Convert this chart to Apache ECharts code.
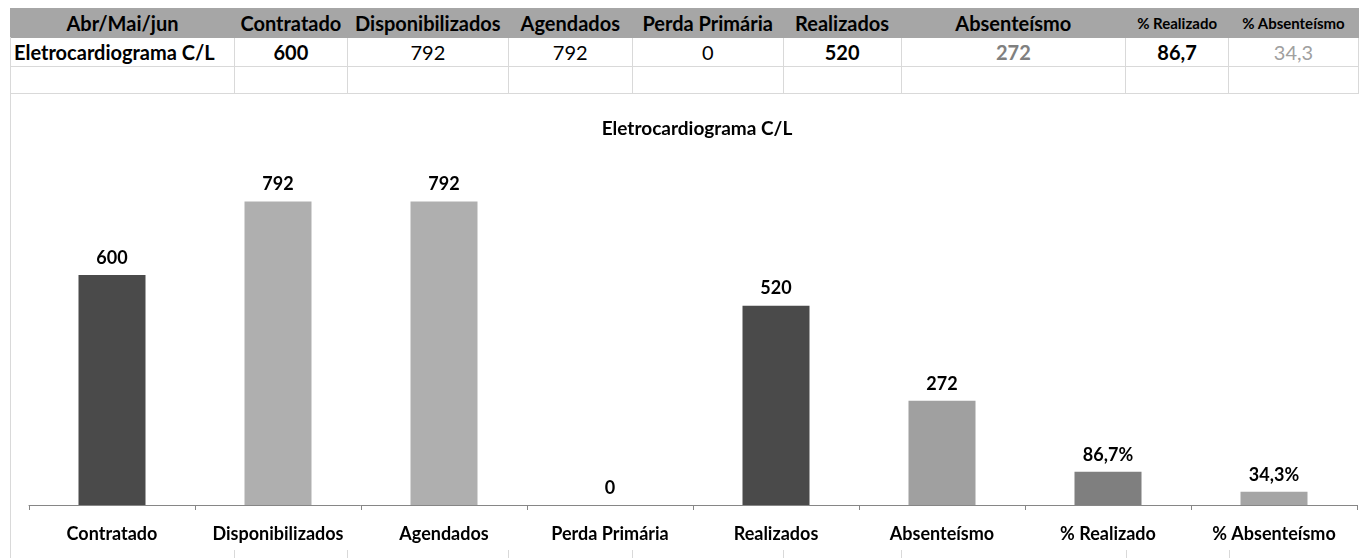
<!DOCTYPE html>
<html>
<head>
<meta charset="utf-8">
<script src="https://cdn.jsdelivr.net/npm/echarts@6/dist/echarts.min.js"></script>
<style>
  html, body { margin: 0; padding: 0; background: #fff; }
  body { width: 1359px; height: 558px; overflow: hidden; position: relative; font-family: Lato, 'Open Sans', sans-serif; }
  #chart { position: absolute; left: 0; top: 0; width: 1359px; height: 558px; }
  #grade { position: absolute; left: 10px; top: 8px; border-collapse: collapse; table-layout: fixed; z-index: 2; background: #fff; }
  #grade td { border: 1px solid #d9d9d9; padding: 0; text-align: center; white-space: nowrap; overflow: visible; font-size: 20px; color: #000; }
  #grade tr.head td { background: #a6a6a6; border-color: #a6a6a6; font-weight: bold; font-size: 20px; }
  #grade tr.head td.small { font-size: 15px; }
  #borda { position: absolute; left: 10px; top: 37px; width: 1px; height: 521px; background: #d9d9d9; z-index: 3; }
  .stub { position: absolute; top: 550px; width: 1px; height: 8px; background: #d9d9d9; z-index: 3; }
</style>
</head>
<body>
<div id="chart"></div>
<table id="grade"></table>
<div id="borda"></div>
<script>
// dados
const periodLabel = 'Abr/Mai/jun'
const rowLabel = 'Eletrocardiograma C/L'
const categories = ['Contratado', 'Disponibilizados', 'Agendados', 'Perda Primária', 'Realizados', 'Absenteísmo', '% Realizado', '% Absenteísmo']
const values = [600, 792, 792, 0, 520, 272, 86.7, 34.3]
const isPercent = [false, false, false, false, false, false, true, true]

// estilo
const colWidths = [224, 113, 161, 124, 151, 118, 225, 103, 130]
const barColors = ['#4a4a4a', '#afafaf', '#afafaf', '#afafaf', '#4a4a4a', '#a0a0a0', '#7f7f7f', '#a5a5a5']
const cellStyles = [
  'font-weight:bold', '', '', '', 'font-weight:bold',
  'font-weight:bold;color:#808080', 'font-weight:bold', 'color:#a0a0a0'
]

function fmt(v) {
  return String(v).replace('.', ',')
}

// tabela
const table = document.getElementById('grade')
const cg = document.createElement('colgroup')
colWidths.forEach(w => {
  const c = document.createElement('col')
  c.style.width = w + 'px'
  cg.appendChild(c)
})
table.appendChild(cg)

const head = document.createElement('tr')
head.className = 'head'
head.style.height = '29px'
head.innerHTML = '<td>' + periodLabel + '</td>' +
  categories.map((c, i) => '<td' + (isPercent[i] ? ' class="small"' : '') + '>' + c + '</td>').join('')
table.appendChild(head)

const row = document.createElement('tr')
row.style.height = '29px'
row.innerHTML = '<td style="text-align:left;padding-left:3px;font-weight:bold">' + rowLabel + '</td>' +
  values.map((v, i) => '<td style="' + cellStyles[i] + '">' + fmt(v) + '</td>').join('')
table.appendChild(row)

const empty = document.createElement('tr')
empty.style.height = '27px'
empty.innerHTML = colWidths.map(() => '<td></td>').join('')
table.appendChild(empty)

// linhas de grade da planilha abaixo do gráfico
let x = 10
colWidths.forEach(w => {
  x += w
  const s = document.createElement('div')
  s.className = 'stub'
  s.style.left = x + 'px'
  document.body.appendChild(s)
})

// gráfico
const chart = echarts.init(document.getElementById('chart'))
const option = {
  animation: false,
  textStyle: { fontFamily: 'Lato, sans-serif' },
  title: {
    text: rowLabel,
    left: 692,
    top: 114,
    textAlign: 'center',
    textStyle: { fontSize: 19, fontWeight: 'bold', color: '#000' }
  },
  grid: { left: 29, right: 2, top: 160, bottom: 53 },
  xAxis: {
    type: 'category',
    data: categories,
    axisLine: { lineStyle: { color: '#868686', width: 1 } },
    axisTick: { show: true, length: 5, lineStyle: { color: '#868686' } },
    axisLabel: { interval: 0, margin: 20, fontSize: 18, fontWeight: 'bold', color: '#000' }
  },
  yAxis: { type: 'value', min: 0, max: 900, show: false },
  series: [{
    type: 'bar',
    barWidth: 67,
    data: values.map((v, i) => ({ value: v, itemStyle: { color: barColors[i] } })),
    label: {
      show: true,
      position: 'top',
      distance: 8,
      fontSize: 18,
      fontWeight: 'bold',
      color: '#000',
      formatter: p => fmt(p.value) + (isPercent[p.dataIndex] ? '%' : '')
    }
  }]
}
chart.setOption(option)
</script>
</body>
</html>
